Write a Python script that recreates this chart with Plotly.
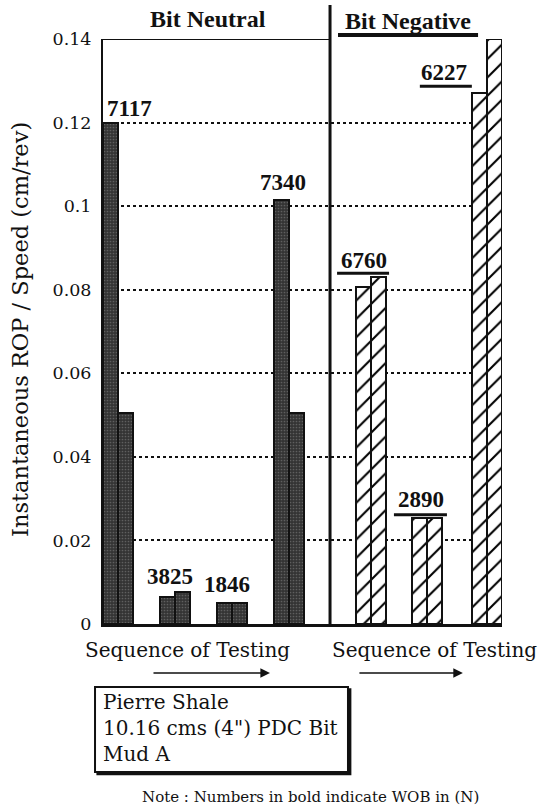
import plotly.graph_objects as go

# ---- data -----------------------------------------------------------------
neutral_wob = ["7117", "3825", "1846", "7340"]
neutral_first = [0.12, 0.0065, 0.005, 0.1015]
neutral_second = [0.0505, 0.0077, 0.005, 0.0505]

negative_wob = ["6760", "2890", "6227"]
negative_first = [0.0807, 0.0254, 0.127]
negative_second = [0.083, 0.0254, 0.14]

y_ticks = [0, 0.02, 0.04, 0.06, 0.08, 0.1, 0.12, 0.14]
y_tick_text = ["0", "0.02", "0.04", "0.06", "0.08", "0.1", "0.12", "0.14"]

# ---- layout constants -------------------------------------------------------
neutral_pos = [1, 2, 3, 4]
negative_pos = [5.44, 6.42, 7.48]
divider_pos = 4.72
bar_w = 0.263
x_range = [0.737, 7.737]

REG = "DejaVu Serif"
BOLD = "Liberation Serif"
INK = "#111111"

fig = go.Figure()

dark = dict(color="#3a3a3a",
            line=dict(color="#111111", width=2),
            pattern=dict(shape=".", fgcolor="#8a8a8a", bgcolor="#343434",
                         size=3, solidity=0.25))
hatch = dict(color="white",
             line=dict(color="#111111", width=2),
             pattern=dict(shape="/", fgcolor="#000000", fgopacity=1, bgcolor="white",
                          size=13, solidity=0.16))

fig.add_bar(x=neutral_pos, y=neutral_first, width=bar_w, offset=-bar_w,
            marker=dark, showlegend=False)
fig.add_bar(x=neutral_pos, y=neutral_second, width=bar_w, offset=0,
            marker=dark, showlegend=False)
fig.add_bar(x=negative_pos, y=negative_first, width=bar_w, offset=-bar_w,
            marker=hatch, showlegend=False)
fig.add_bar(x=negative_pos, y=negative_second, width=bar_w, offset=0,
            marker=hatch, showlegend=False)

annotations = []
shapes = []

# WOB labels above the neutral pairs
neutral_dx = [12, -4.5, -4.5, -6]
neutral_dy = [14, 15, 19, 17]
for p, a, b, t, dx, dy in zip(neutral_pos, neutral_first, neutral_second,
                              neutral_wob, neutral_dx, neutral_dy):
    annotations.append(dict(x=p, y=max(a, b), xref="x", yref="y", text=f"<b>{t}</b>",
                            showarrow=False, xshift=dx, yshift=dy,
                            xanchor="center", yanchor="middle",
                            font=dict(family=BOLD, size=23, color=INK)))

# WOB labels above the negative pairs, underlined
negative_dx = [-7, -6, -43.5]
negative_dy = [17, 18, 21]
negative_ref = [max(a, b) for a, b in zip(negative_first, negative_second)]
negative_ref[2] = negative_first[2]
under_x = [(-34, 18), (-33, 20), (-67.5, -15.5)]
under_y = [4, 3, 7]
for p, yv, t, dx, dy, ux, uy in zip(negative_pos, negative_ref, negative_wob,
                                    negative_dx, negative_dy, under_x, under_y):
    annotations.append(dict(x=p, y=yv, xref="x", yref="y", text=f"<b>{t}</b>",
                            showarrow=False, xshift=dx, yshift=dy,
                            xanchor="center", yanchor="middle",
                            font=dict(family=BOLD, size=23, color=INK)))
    shapes.append(dict(type="line", xref="x", yref="y",
                       xsizemode="pixel", ysizemode="pixel",
                       xanchor=p, yanchor=yv,
                       x0=ux[0], x1=ux[1], y0=uy, y1=uy,
                       line=dict(color=INK, width=3)))

# panel frame pieces
shapes.append(dict(type="line", xref="x", yref="y", x0=x_range[0], x1=divider_pos,
                   y0=0.14, y1=0.14, line=dict(color=INK, width=2)))
shapes.append(dict(type="line", xref="x", yref="paper", x0=divider_pos, x1=divider_pos,
                   y0=0, y1=1.058, line=dict(color=INK, width=3)))
shapes.append(dict(type="line", xref="paper", yref="paper", x0=0.589, x1=0.940,
                   y0=1.007, y1=1.007, line=dict(color=INK, width=4)))

# panel headings
annotations.append(dict(x=0.264, y=1.034, xref="paper", yref="paper",
                        text="<b>Bit Neutral</b>", showarrow=False,
                        xanchor="center", yanchor="middle",
                        font=dict(family=BOLD, size=24, color=INK)))
annotations.append(dict(x=0.764, y=1.031, xref="paper", yref="paper",
                        text="<b>Bit Negative</b>", showarrow=False,
                        xanchor="center", yanchor="middle",
                        font=dict(family=BOLD, size=24, color=INK)))

# axis title
annotations.append(dict(x=-0.208, y=0.5026, xref="paper", yref="paper",
                        text="Instantaneous ROP / Speed (cm/rev)", textangle=-90,
                        showarrow=False, xanchor="center", yanchor="middle",
                        font=dict(family=REG, size=22.5, color=INK)))

# sequence captions and arrows
for cx in (0.212, 0.83):
    annotations.append(dict(x=cx, y=-0.0444, xref="paper", yref="paper",
                            text="Sequence of Testing", showarrow=False,
                            xanchor="center", yanchor="middle",
                            font=dict(family=REG, size=20, color=INK)))
for hx, ax in ((0.4185, -118), (0.902, -105)):
    annotations.append(dict(x=hx, y=-0.0838, xref="paper", yref="paper", text="",
                            showarrow=True, ax=ax, ay=0, arrowhead=2,
                            arrowsize=1.2, arrowwidth=1.6, arrowcolor=INK))

# info box with a slight shadow
bx0, bx1, by0, by1 = -0.02, 0.614, -0.253, -0.1077
shapes.append(dict(type="rect", xref="paper", yref="paper",
                   x0=bx0 + 0.006, x1=bx1 + 0.006, y0=by0 - 0.004, y1=by1 - 0.004,
                   line=dict(color=INK, width=2), fillcolor=INK))
shapes.append(dict(type="rect", xref="paper", yref="paper",
                   x0=bx0, x1=bx1, y0=by0, y1=by1,
                   line=dict(color=INK, width=2), fillcolor="white"))
annotations.append(dict(x=-0.005, y=-0.1786, xref="paper", yref="paper",
                        text="Pierre Shale<br>10.16 cms (4\") PDC Bit<br>Mud A",
                        showarrow=False, xanchor="left", yanchor="middle", align="left",
                        font=dict(family=REG, size=20, color=INK)))

annotations.append(dict(x=0.519, y=-0.2957, xref="paper", yref="paper",
                        text="Note : Numbers in bold indicate WOB in (N)",
                        showarrow=False, xanchor="center", yanchor="middle",
                        font=dict(family=REG, size=15, color=INK)))

fig.update_layout(
    width=543, height=807,
    margin=dict(l=103, r=41, t=39, b=183),
    paper_bgcolor="white", plot_bgcolor="white",
    barmode="overlay", bargap=0,
    shapes=shapes, annotations=annotations,
    xaxis=dict(range=x_range, showgrid=False, zeroline=False, showticklabels=False,
               showline=True, linecolor=INK, linewidth=2.5, ticks=""),
    yaxis=dict(range=[0, 0.14], tickvals=y_ticks, ticktext=y_tick_text,
               showgrid=True, gridcolor=INK, griddash="dot", gridwidth=1.5,
               zeroline=False, showline=True, linecolor=INK, linewidth=2,
               ticks="", ticklabelstandoff=6,
               tickfont=dict(family=REG, size=17.5, color=INK)),
)

fig.write_html("out.html")
